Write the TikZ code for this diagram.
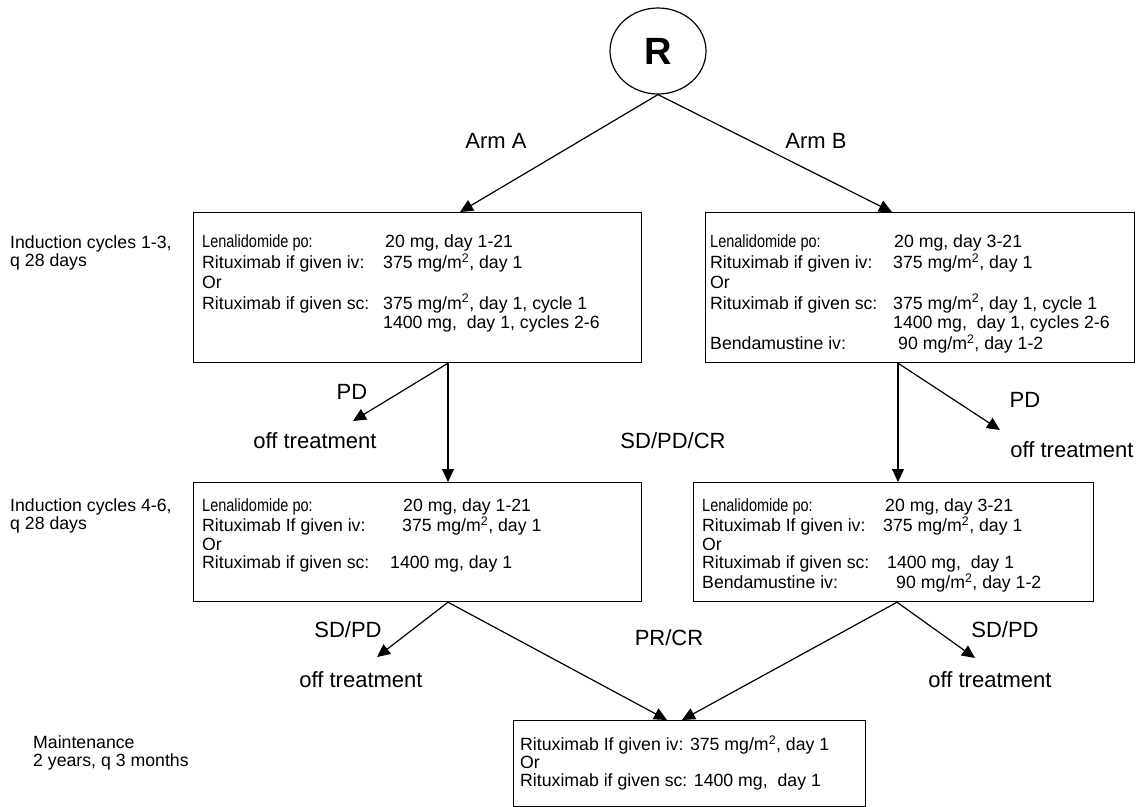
\documentclass[tikz,border=0pt]{standalone}
\usepackage{fontspec}
\setmainfont{Liberation Sans}
\newfontfamily\lenfont{Liberation Sans}[FakeStretch=0.82]
\usetikzlibrary{arrows.meta,shapes.geometric}
\newcommand\msq{mg/m\textsuperscript{2}}
\newcommand\len{{\lenfont Lenalidomide po:}}
\begin{document}
\begin{tikzpicture}[x=1pt,y=-1pt,
  box/.style={draw, line width=1.2pt, inner sep=0, anchor=north west},
  txt/.style={inner sep=0, anchor=north west, font=\fontsize{17.7}{18.3}\selectfont},
  txttop/.style={txt, font=\fontsize{17.7}{19.6}\selectfont},
  lab/.style={txt, font=\fontsize{17.7}{18}\selectfont},
  big/.style={inner sep=0, font=\fontsize{22}{26}\selectfont},
  conn/.style={line width=1.2pt, -{Triangle[length=13pt,width=12pt]}}]
\useasboundingbox (0,0) rectangle (1143,806);

% R
\node[draw, ellipse, line width=1.2pt, minimum width=96pt, minimum height=86pt, inner sep=0,
  font=\bfseries\fontsize{38}{40}\selectfont] (R) at (658,51) {R};

% boxes
\node[box, minimum width=448pt, minimum height=150pt] (A1) at (193,212) {};
\node[box, minimum width=429pt, minimum height=150pt] (B1) at (705,212) {};
\node[box, minimum width=448pt, minimum height=119pt] (A2) at (193,482) {};
\node[box, minimum width=400pt, minimum height=119pt] (B2) at (693,482) {};
\node[box, minimum width=352pt, minimum height=86pt] (M) at (513,720) {};

% box texts
\node[txttop] (tA1) at (202,234) {\begin{tabular}{@{}p{181pt}@{}l@{}}
\len & \hspace{2pt}20 mg, day 1-21\\
Rituximab if given iv: & 375 \msq, day 1\\
Or & \\
Rituximab if given sc: & 375 \msq, day 1, cycle 1\\
 & 1400 mg,\ \ day 1, cycles 2-6
\end{tabular}};
\node[txttop] (tB1) at (710,234) {\begin{tabular}{@{}p{183pt}@{}l@{}}
\len & \hspace{1pt}20 mg, day 3-21\\
Rituximab if given iv: & 375 \msq, day 1\\
Or & \\
Rituximab if given sc: & 375 \msq, day 1, cycle 1\\
 & 1400 mg,\ \ day 1, cycles 2-6\\
Bendamustine iv: & \hspace{5pt}90 \msq, day 1-2
\end{tabular}};
\node[txt] (tA2) at (202,498.5) {\begin{tabular}{@{}p{200pt}@{}l@{}}
\len & \hspace{1pt}20 mg, day 1-21\\
Rituximab If given iv: & 375 \msq, day 1\\
Or & \\
Rituximab if given sc: & \hspace{-12pt}1400 mg, day 1
\end{tabular}};
\node[txt] (tB2) at (702,498.5) {\begin{tabular}{@{}p{181pt}@{}l@{}}
\len & \hspace{2pt}20 mg, day 3-21\\
Rituximab If given iv: & 375 \msq, day 1\\
Or & \\
Rituximab if given sc: & \hspace{4pt}1400 mg,\ \ day 1\\
Bendamustine iv: & \hspace{13pt}90 \msq, day 1-2
\end{tabular}};
\node[lab] (tM) at (520,735.5) {\begin{tabular}{@{}l@{}}
Rituximab If given iv: 375 \msq, day 1\\
Or\\
Rituximab if given sc: 1400 mg,\ \ day 1
\end{tabular}};

% left labels
\node[lab] (L1) at (10,235.5) {\begin{tabular}{@{}l@{}}Induction cycles 1-3,\\ q 28 days\end{tabular}};
\node[lab] (L2) at (10,498.5) {\begin{tabular}{@{}l@{}}Induction cycles 4-6,\\ q 28 days\end{tabular}};
\node[lab] (L3) at (33,735.5) {\begin{tabular}{@{}l@{}}Maintenance\\ 2 years, q 3 months\end{tabular}};

% big labels
\node[big] (armA) at (496,141) {Arm A};
\node[big] (armB) at (816,141) {Arm B};
\node[big] (pdA) at (352,392) {PD};
\node[big] (offA1) at (315,441) {off treatment};
\node[big] (sdpdcr) at (673,441) {SD/PD/CR};
\node[big] (pdB) at (1025,400) {PD};
\node[big] (offB1) at (1072,450) {off treatment};
\node[big] (sdpdA) at (348,630) {SD/PD};
\node[big] (offA2) at (361,680) {off treatment};
\node[big] (prcr) at (669,638) {PR/CR};
\node[big] (sdpdB) at (1005,630) {SD/PD};
\node[big] (offB2) at (990,680) {off treatment};

% connector end points
\coordinate (A1in) at ([xshift=267pt]A1.north west);
\coordinate (B1in) at ([xshift=187pt]B1.north west);
\coordinate (A1out) at ([xshift=255pt]A1.south west);
\coordinate (B1out) at ([xshift=193pt]B1.south west);
\coordinate (A2in) at ([xshift=255pt]A2.north west);
\coordinate (B2in) at ([xshift=205pt]B2.north west);
\coordinate (A2out) at ([xshift=255pt]A2.south west);
\coordinate (B2out) at ([xshift=204pt]B2.south west);
\coordinate (MinA) at ([xshift=154pt]M.north west);
\coordinate (MinB) at ([xshift=169pt]M.north west);
\coordinate (offA1p) at (353,421);
\coordinate (offB1p) at (1000,430);
\coordinate (offA2p) at (377,657);
\coordinate (offB2p) at (975,658);

% connectors
\draw[conn] (R.south) -- (A1in);
\draw[conn] (R.south) -- (B1in);
\draw[conn] (A1out) -- (A2in);
\draw[conn] (A1out) -- (offA1p);
\draw[conn] (B1out) -- (B2in);
\draw[conn] (B1out) -- (offB1p);
\draw[conn] (A2out) -- (offA2p);
\draw[conn] (A2out) -- (MinA);
\draw[conn] (B2out) -- (offB2p);
\draw[conn] (B2out) -- (MinB);
\end{tikzpicture}
\end{document}
